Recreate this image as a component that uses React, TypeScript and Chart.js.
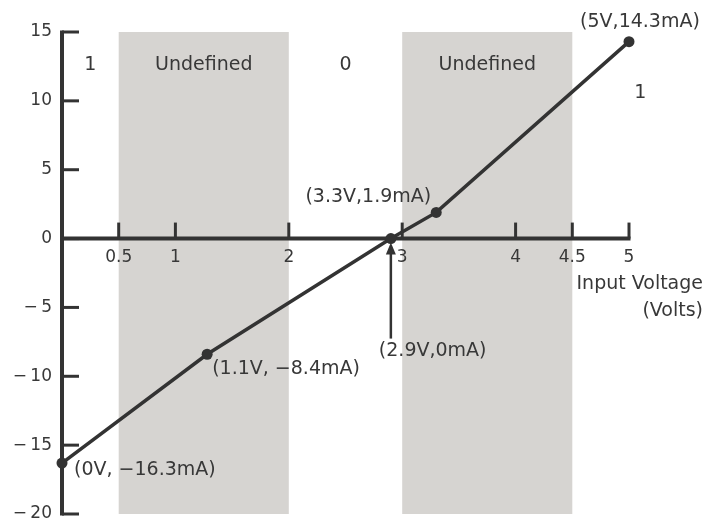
import React, { useEffect, useRef } from 'react';
import { Chart, registerables } from 'chart.js';

Chart.register(...registerables);

// ---- data ----
const pointVolts = [0, 1.28, 2.9, 3.3, 5];
const pointMilliamps = [-16.3, -8.4, 0, 1.9, 14.3];
const pointLabels = ['(0V, −16.3mA)', '(1.1V, −8.4mA)', '(2.9V,0mA)', '(3.3V,1.9mA)', '(5V,14.3mA)'];
const xTickValues = [0.5, 1, 2, 3, 4, 4.5, 5];
const yTickValues = [-20, -15, -10, -5, 0, 5, 10, 15];
const undefinedBandStart = [0.5, 3];
const undefinedBandEnd = [2, 4.5];
const regionLabels = ['1', 'Undefined', '0', 'Undefined', '1'];
const regionLabelVolts = [0.25, 1.25, 2.5, 3.75, 5.1];
const regionLabelMilliamps = [12.6, 12.6, 12.6, 12.6, 10.6];
const xAxisTitle = ['Input Voltage', '(Volts)'];
const arrowPointIndex = 2;

const FONT = 'DejaVu Sans';
const TEXT = '#383838';
const INK = '#333333';

// label placement relative to each point: [align, dx, dy]
const labelPlacement: [CanvasTextAlign, number, number][] = [
  ['left', 12, 7],
  ['left', 5, 15],
  ['left', -12, 112],
  ['right', -5, -15],
  ['center', 11, -20],
];

const decor = {
  id: 'decor',
  beforeDraw(chart: any) {
    const { ctx, chartArea, scales } = chart;
    const x = scales.x, y = scales.y;
    ctx.save();
    // shaded bands
    ctx.fillStyle = '#d6d4d1';
    for (let i = 0; i < undefinedBandStart.length; i++) {
      const a = x.getPixelForValue(undefinedBandStart[i]);
      const b = x.getPixelForValue(undefinedBandEnd[i]);
      ctx.fillRect(a, chartArea.top, b - a, chartArea.bottom - chartArea.top);
    }
    const x0 = x.getPixelForValue(0);
    const y0 = y.getPixelForValue(0);
    // y axis
    ctx.strokeStyle = INK;
    ctx.lineCap = 'butt';
    ctx.lineWidth = 4;
    ctx.beginPath();
    ctx.moveTo(x0, y.getPixelForValue(y.max) - 1.5);
    ctx.lineTo(x0, y.getPixelForValue(y.min) + 1.5);
    ctx.stroke();
    // y ticks (inward)
    ctx.lineWidth = 3;
    for (const v of yTickValues) {
      const py = y.getPixelForValue(v);
      ctx.beginPath();
      ctx.moveTo(x0, py);
      ctx.lineTo(x0 + 17, py);
      ctx.stroke();
    }
    // x axis
    ctx.lineWidth = 4;
    ctx.beginPath();
    ctx.moveTo(x0, y0);
    ctx.lineTo(x.getPixelForValue(x.max) + 1.5, y0);
    ctx.stroke();
    ctx.lineWidth = 3;
    for (const v of xTickValues) {
      const px = x.getPixelForValue(v);
      ctx.beginPath();
      ctx.moveTo(px, y0);
      ctx.lineTo(px, y0 - 16);
      ctx.stroke();
    }
    ctx.restore();
  },
  afterDatasetsDraw(chart: any) {
    const { ctx, scales } = chart;
    const x = scales.x, y = scales.y;
    ctx.save();
    ctx.fillStyle = TEXT;
    ctx.textBaseline = 'middle';
    ctx.font = `19px "${FONT}"`;
    // region labels
    ctx.textAlign = 'center';
    for (let i = 0; i < regionLabels.length; i++) {
      ctx.fillText(regionLabels[i], x.getPixelForValue(regionLabelVolts[i]), y.getPixelForValue(regionLabelMilliamps[i]));
    }
    // point labels
    for (let i = 0; i < pointLabels.length; i++) {
      const [al, dx, dy] = labelPlacement[i];
      ctx.textAlign = al;
      ctx.fillText(pointLabels[i], x.getPixelForValue(pointVolts[i]) + dx, y.getPixelForValue(pointMilliamps[i]) + dy);
    }
    // arrow
    const ax = x.getPixelForValue(pointVolts[arrowPointIndex]);
    const ay = y.getPixelForValue(pointMilliamps[arrowPointIndex]);
    ctx.strokeStyle = INK;
    ctx.lineWidth = 2.5;
    ctx.beginPath();
    ctx.moveTo(ax, ay + 100);
    ctx.lineTo(ax, ay + 12);
    ctx.stroke();
    ctx.fillStyle = INK;
    ctx.beginPath();
    ctx.moveTo(ax, ay + 4);
    ctx.lineTo(ax - 5, ay + 16);
    ctx.lineTo(ax + 5, ay + 16);
    ctx.closePath();
    ctx.fill();
    // x axis title
    ctx.fillStyle = TEXT;
    ctx.textAlign = 'right';
    ctx.font = `19px "${FONT}"`;
    const right = x.getPixelForValue(x.max) + 74;
    const y0 = y.getPixelForValue(0);
    ctx.fillText(xAxisTitle[0], right, y0 + 45);
    ctx.fillText(xAxisTitle[1], right, y0 + 72);
    ctx.restore();
  },
};

export default function App() {
  const ref = useRef<HTMLCanvasElement | null>(null);
  useEffect(() => {
    if (!ref.current) return;
    const chart = new Chart(ref.current, {
      type: 'line',
      data: {
        datasets: [
          {
            data: pointVolts.map((v, i) => ({ x: v, y: pointMilliamps[i] })),
            borderColor: INK,
            backgroundColor: INK,
            borderWidth: 3.5,
            pointRadius: 5.5,
            pointBackgroundColor: INK,
            pointBorderWidth: 0,
            tension: 0,
            clip: false as any,
          },
        ],
      },
      options: {
        responsive: false,
        animation: false,
        devicePixelRatio: 1,
        layout: { padding: { left: 0, right: 88, top: 32, bottom: 8 } },
        plugins: { legend: { display: false }, tooltip: { enabled: false } },
        events: [],
        scales: {
          x: {
            type: 'linear',
            min: 0,
            max: 5,
            position: { y: 0 } as any,
            afterBuildTicks: (s: any) => {
              s.ticks = xTickValues.map((v) => ({ value: v }));
            },
            grid: { display: false, drawTicks: false },
            border: { display: false },
            ticks: {
              padding: 9,
              maxRotation: 0,
              autoSkip: false,
              color: TEXT,
              font: { family: FONT, size: 17 },
              callback: (v: any) => String(v),
            },
          },
          y: {
            type: 'linear',
            min: -20,
            max: 15,
            position: 'left',
            afterBuildTicks: (s: any) => {
              s.ticks = yTickValues.map((v) => ({ value: v }));
            },
            afterFit: (s: any) => {
              s.width = 62;
              s.paddingTop = 0;
              s.paddingBottom = 0;
            },
            grid: { display: false, drawTicks: false },
            border: { display: false },
            ticks: {
              padding: 10,
              color: TEXT,
              font: { family: FONT, size: 17 },
              callback: (v: any) => (v < 0 ? '−\u2009' + Math.abs(v) : String(v)),
            },
          },
        },
      },
      plugins: [decor],
    });
    return () => chart.destroy();
  }, []);
  return (
    <div style={{ position: 'absolute', left: 0, top: 0, width: 717, height: 522, background: '#fff' }}>
      <canvas ref={ref} width={717} height={522} />
    </div>
  );
}
